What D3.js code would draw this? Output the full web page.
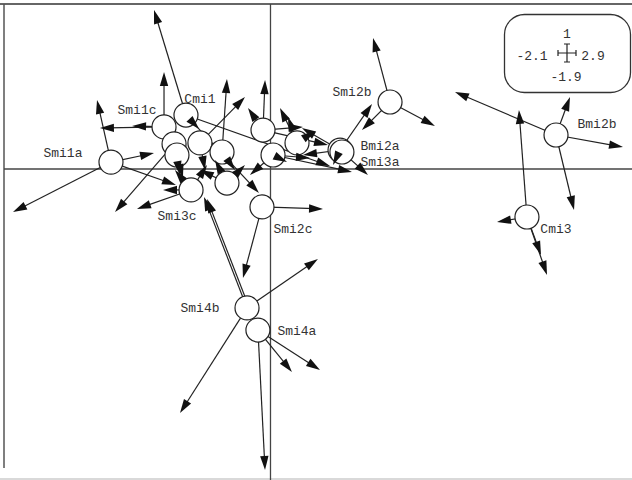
<!DOCTYPE html>
<html>
<head>
<meta charset="utf-8">
<script src="https://cdn.jsdelivr.net/npm/d3@7"></script>
<style>
  html, body { margin: 0; padding: 0; background: #fff; }
  svg { display: block; }
  text { font-family: "Liberation Mono", "DejaVu Sans Mono", monospace; font-size: 13px; fill: #333; }
</style>
</head>
<body>
<div class="chart"></div>
<script>
// limits shown in the legend box
const xLim = [-2.1, 2.9];
const yLim = [-1.9, 1];

// group centroids (circles); '' = label hidden in the overlap
const groupNames = ['Smi1a', 'Smi1c', 'Cmi1', '', '', '', '', 'Smi3c', '', 'Smi2c',
  '', '', '', 'Bmi2a', 'Smi3a', 'Smi2b', 'Bmi2b', 'Cmi3', 'Smi4b', 'Smi4a'];
const groupX = [-1.257, -0.839, -0.666, -0.760, -0.556, -0.737, -0.382, -0.626, -0.343, -0.067,
  -0.059, 0.020, 0.209, 0.548, 0.563, 0.942, 2.250, 2.021, -0.185, -0.099];
const groupY = [0.042, 0.255, 0.327, 0.152, 0.158, 0.085, 0.103, -0.127, -0.085, -0.230,
  0.236, 0.085, 0.158, 0.115, 0.103, 0.406, 0.206, -0.291, -0.842, -0.976];

// arrows: index of the starting group, then the point it points to
const arrowGroup = [0, 0, 0, 0,  1, 1, 1,  2, 2, 2, 2,  3, 3,  4, 4,  5,  6, 6,
  7, 7, 7, 7,  8, 8, 8,  9, 9,  10, 10, 10, 10,  11, 11, 11, 11,  12, 12, 12,
  13, 13, 13, 13, 13,  15, 15, 15,  16, 16, 16, 16,  17, 17, 17, 17,  18, 18, 18,  19, 19, 19, 19];
const arrowX = [-1.367, -0.918, -2.029, -0.745,  -0.839, -1.344, -1.091,  -0.918, -0.563, -0.091, 0.469,
  -1.225, -0.713,  -0.201, -0.516,  -0.690,  -0.343, -0.280,
  -1.052, -0.847, -0.753, -0.500,  -0.556, -0.437, -0.201,  0.414, -0.217,
  -0.043, -0.177, 0.256, 0.453,  0.642, -0.162, 0.130, 0.311,  0.075, 0.351, 0.138,
  0.800, 0.248, 0.256, 0.493, 0.768,  0.808, 1.296, 0.721,  1.454, 2.360, 2.778, 2.392,
  1.958, 1.785, 2.132, 2.179,  0.374, -0.713, -0.524,  -0.043, 0.169, 0.390, -0.500];
const arrowY = [0.418, 0.097, -0.261, -0.097,  0.588, 0.248, 0.261,  0.964, 0.242, -0.145, 0.018,
  -0.261, -0.036,  0.436, -0.006,  -0.055,  0.545, -0.006,
  -0.242, -0.127, -0.006, 0.024,  -0.006, 0.055, 0.024,  -0.242, -0.661,
  0.539, 0.370, 0.255, 0.145,  -0.018, -0.036, 0.042, 0.067,  0.370, 0.230, 0.315,
  0.394, 0.248, 0.085, 0.024, -0.036,  0.794, 0.261, 0.236,  0.467, 0.436, 0.133, -0.248,
  0.358, -0.321, -0.521, -0.642,  -0.545, -1.479, -0.170,  -1.824, -1.230, -1.218, -0.182];

// label offsets from the circle centre, in pixels
const labelDx = [-48, -27, 14, 0, 0, 0, 0, -14, 0, 31, 0, 0, 0, 40, 38, -38, 41, 29, -47, 39];
const labelDy = [-10, -17, -17, 0, 0, 0, 0, 25, 0, 21, 0, 0, 0, -5, 9, -11, -12, 11, 0, 0];

const width = 632, height = 480;
const r = 12, headLen = 14, headHalf = 4.2;

const x = d3.scaleLinear().domain(xLim).range([4, 638.5]);
const y = d3.scaleLinear().domain(yLim).range([482.5, 4]);

const svg = d3.select('.chart').append('svg')
  .attr('width', width)
  .attr('height', height);

// frame
svg.append('line').attr('x1', 0).attr('x2', width).attr('y1', 4).attr('y2', 4)
  .attr('stroke', '#666').attr('stroke-width', 2);
svg.append('line').attr('x1', 4).attr('x2', 4).attr('y1', 4).attr('y2', 468)
  .attr('stroke', '#555').attr('stroke-width', 1.5);
svg.append('line').attr('x1', 0).attr('x2', width).attr('y1', 479).attr('y2', 479)
  .attr('stroke', '#ccc').attr('stroke-width', 1.5);

// axes through the origin
svg.append('line').attr('x1', 4).attr('x2', width).attr('y1', y(0)).attr('y2', y(0))
  .attr('stroke', '#444').attr('stroke-width', 1.3);
svg.append('line').attr('x1', x(0)).attr('x2', x(0)).attr('y1', 4).attr('y2', height)
  .attr('stroke', '#444').attr('stroke-width', 1.3);

const arrows = arrowGroup.map((g, i) => {
  const x0 = x(groupX[g]), y0 = y(groupY[g]);
  const x1 = x(arrowX[i]), y1 = y(arrowY[i]);
  const len = Math.hypot(x1 - x0, y1 - y0);
  const ux = (x1 - x0) / len, uy = (y1 - y0) / len;
  return { x0, y0, x1, y1, ux, uy };
});

svg.append('g').selectAll('line')
  .data(arrows)
  .enter()
  .append('line')
  .attr('x1', d => d.x0).attr('y1', d => d.y0)
  .attr('x2', d => d.x1 - d.ux * headLen * 0.6).attr('y2', d => d.y1 - d.uy * headLen * 0.6)
  .attr('stroke', '#222')
  .attr('stroke-width', 1.2);

svg.append('g').selectAll('circle')
  .data(groupX)
  .enter()
  .append('circle')
  .attr('cx', d => x(d))
  .attr('cy', (d, i) => y(groupY[i]))
  .attr('r', r)
  .attr('fill', '#fff')
  .attr('stroke', '#222')
  .attr('stroke-width', 1.2);

svg.append('g').selectAll('path')
  .data(arrows)
  .enter()
  .append('path')
  .attr('d', d => {
    const bx = d.x1 - d.ux * headLen, by = d.y1 - d.uy * headLen;
    return 'M' + d.x1 + ',' + d.y1 +
      'L' + (bx - d.uy * headHalf) + ',' + (by + d.ux * headHalf) +
      'L' + (bx + d.uy * headHalf) + ',' + (by - d.ux * headHalf) + 'Z';
  })
  .attr('fill', '#111');

const labelled = groupNames.map((n, i) => ({ n, i })).filter(d => d.n !== '');

svg.append('g').selectAll('text')
  .data(labelled)
  .enter()
  .append('text')
  .attr('x', d => x(groupX[d.i]) + labelDx[d.i])
  .attr('y', d => y(groupY[d.i]) + labelDy[d.i])
  .attr('dy', '0.35em')
  .attr('text-anchor', 'middle')
  .text(d => d.n);

// legend box with the limits
const lg = svg.append('g');
lg.append('rect')
  .attr('x', 504.5).attr('y', 14.5).attr('width', 126).attr('height', 78)
  .attr('rx', 20).attr('ry', 20)
  .attr('fill', '#fff').attr('stroke', '#333').attr('stroke-width', 1.3);

const cx = 567, cy = 53, arm = 9, tick = 3;
lg.append('path')
  .attr('d', `M${cx - arm},${cy}H${cx + arm}M${cx},${cy - arm}V${cy + arm}` +
    `M${cx - arm},${cy - tick}V${cy + tick}M${cx + arm},${cy - tick}V${cy + tick}` +
    `M${cx - tick},${cy - arm}H${cx + tick}M${cx - tick},${cy + arm}H${cx + tick}`)
  .attr('stroke', '#222').attr('stroke-width', 1.2).attr('fill', 'none');

lg.append('text').attr('x', cx).attr('y', 33).attr('dy', '0.35em')
  .attr('text-anchor', 'middle').text(yLim[1]);
lg.append('text').attr('x', 532).attr('y', 55).attr('dy', '0.35em')
  .attr('text-anchor', 'middle').text(xLim[0]);
lg.append('text').attr('x', 593).attr('y', 55).attr('dy', '0.35em')
  .attr('text-anchor', 'middle').text(xLim[1]);
lg.append('text').attr('x', 566).attr('y', 76).attr('dy', '0.35em')
  .attr('text-anchor', 'middle').text(yLim[0]);
</script>
</body>
</html>
